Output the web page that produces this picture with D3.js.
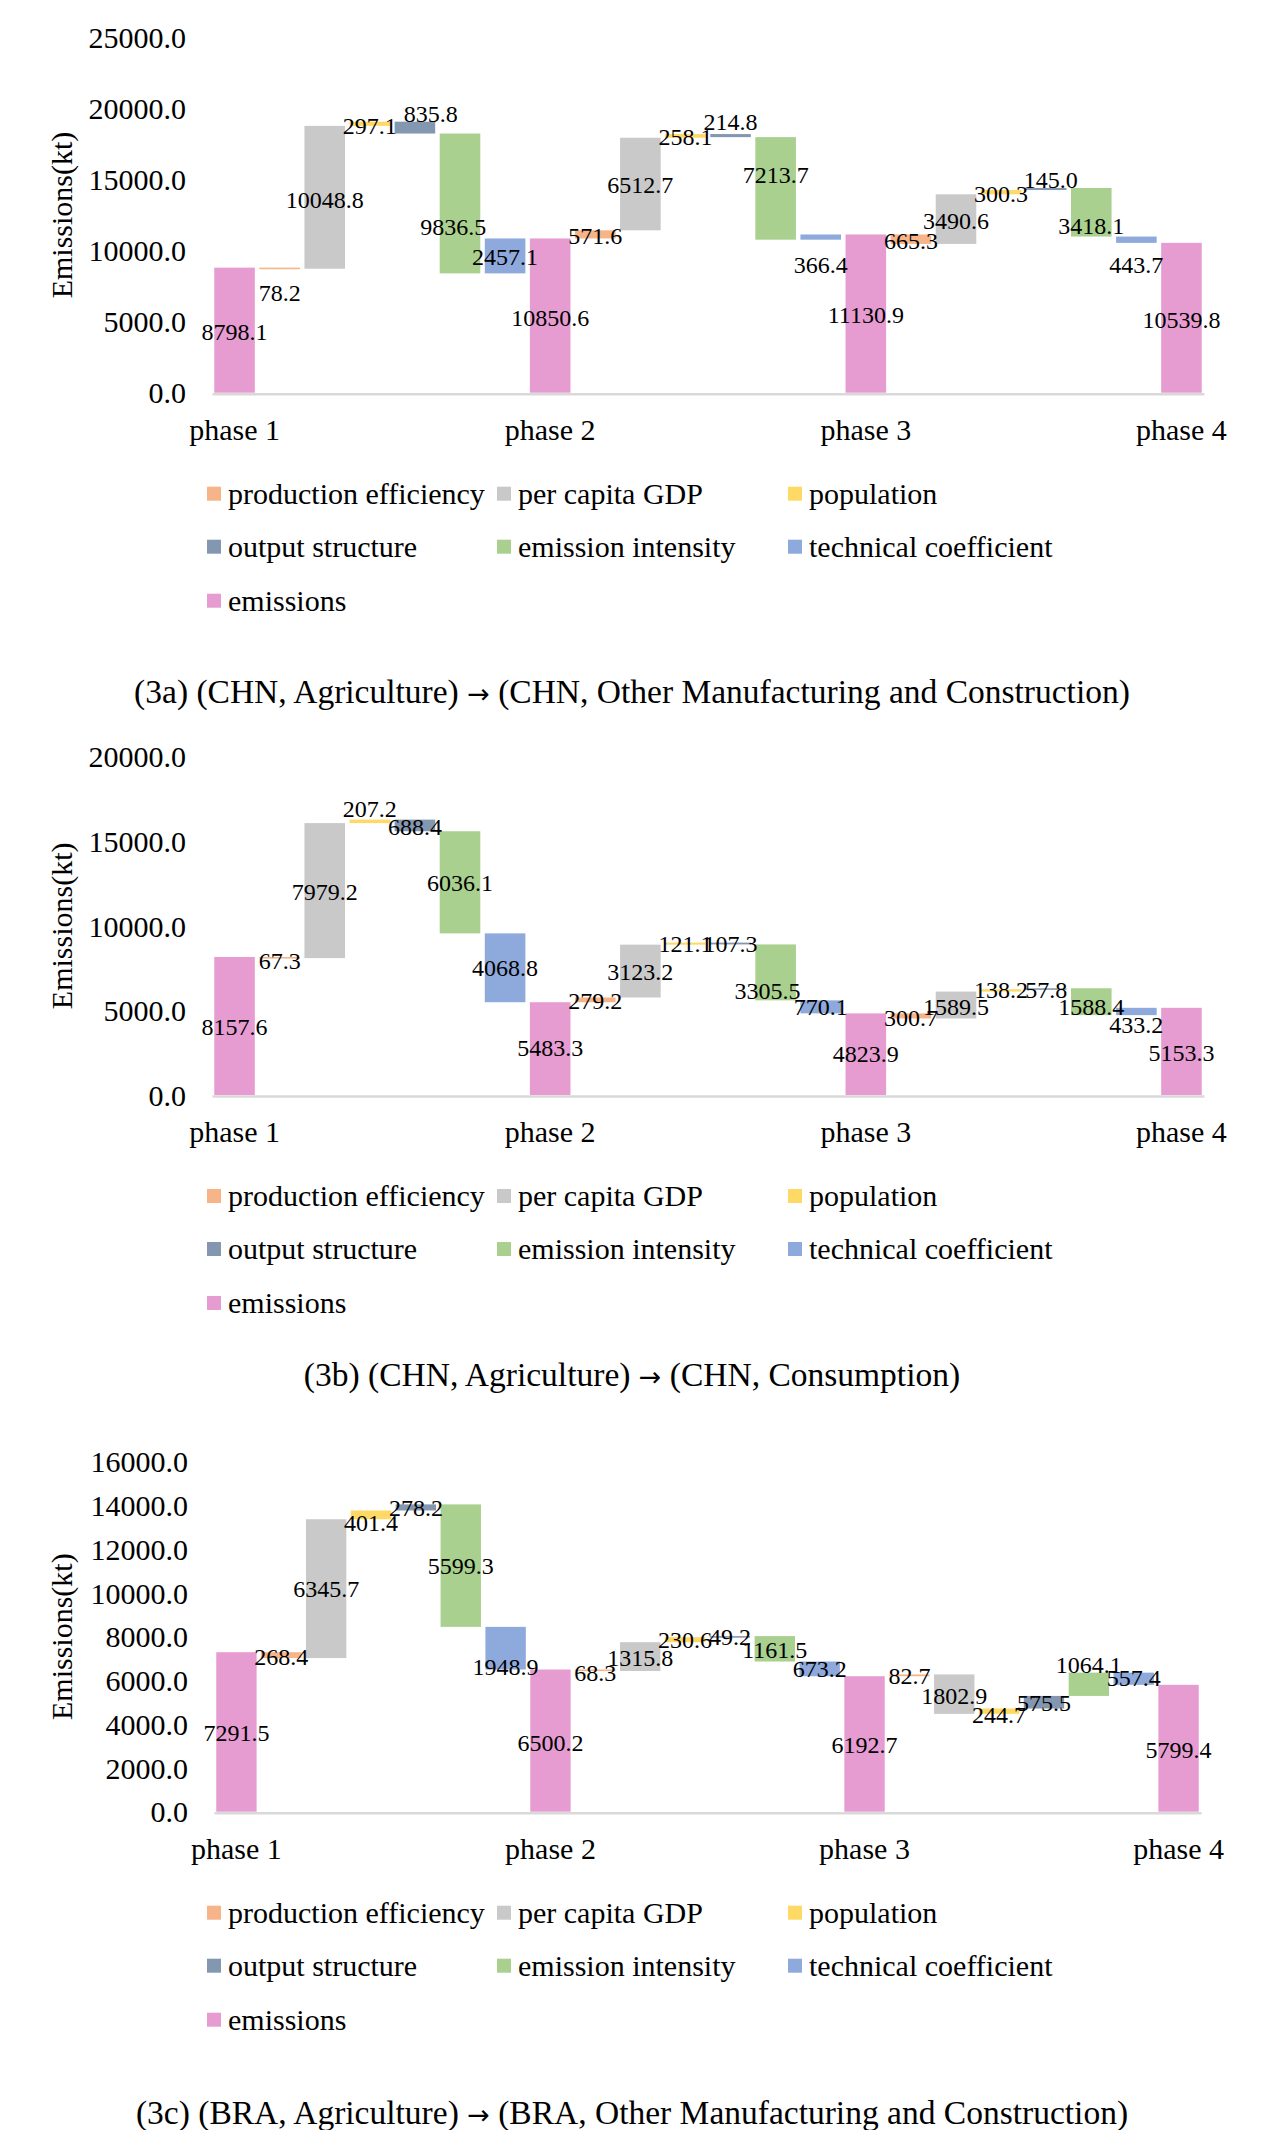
<!DOCTYPE html>
<html>
<head>
<meta charset="utf-8">
<script src="https://cdn.jsdelivr.net/npm/d3@7"></script>
<style>
  html, body { margin: 0; padding: 0; background: #ffffff; }
  svg { display: block; }
  text { font-family: "Liberation Serif", "Times New Roman", serif; fill: #000; }
</style>
</head>
<body>
<svg id="chart" width="1265" height="2130"></svg>
<script>
// ---------- shared categories ----------
const phases = ["phase 1", "phase 2", "phase 3", "phase 4"];
const factors = ["production efficiency", "per capita GDP", "population",
                 "output structure", "emission intensity", "technical coefficient"];
const legendItems = ["production efficiency", "per capita GDP", "population",
                     "output structure", "emission intensity", "technical coefficient",
                     "emissions"];

// ---------- (3a) ----------
const emissionsA = [8798.1, 10850.6, 11130.9, 10539.8];
const changesA = [
  [-78.2, 10048.8, 297.1, -835.8, -9836.5, 2457.1],
  [571.6, 6512.7, 258.1, -214.8, -7213.7, 366.4],
  [-665.3, 3490.6, 300.3, 145.0, -3418.1, -443.7]
];
const labelAtA = [4270, 6990, 13600, 18776, 19620, 11674, 9522, 5232,
                  11020, 14606, 18003, 19058, 15310, 8980, 5464,
                  10689, 12096, 14022, 14958, 11723, 8980, 5120];
const labelShiftA = [0, 0, 0, 0, 0.35, -0.15, 0, 0,
                     0, 0, 0, 0, 0, 0, 0,
                     0, 0, 0, 0.1, 0, 0, 0];
const ticksA = [0, 5000, 10000, 15000, 20000, 25000];
const captionA = ["(3a) (CHN, Agriculture) ", "(CHN, Other Manufacturing and Construction)"];

// ---------- (3b) ----------
const emissionsB = [8157.6, 5483.3, 4823.9, 5153.3];
const changesB = [
  [-67.3, 7979.2, 207.2, -688.4, -6036.1, -4068.8],
  [279.2, 3123.2, 121.1, -107.3, -3305.5, -770.1],
  [-300.7, 1589.5, 138.2, 57.8, -1588.4, 433.2]
];
const labelAtB = [4037, 7950, 12017, 16885, 15857, 12512, 7488, 2758,
                  5573, 7288, 8924, 8924, 6166, 5183, 2404,
                  4533, 5219, 6206, 6206, 5183, 4137, 2500];
const labelShiftB = [0, 0, 0, 0, 0, 0, 0, 0,
                     0, 0, 0, 0, -0.18, 0, 0,
                     0, 0, 0, 0, 0, 0, 0];
const ticksB = [0, 5000, 10000, 15000, 20000];
const captionB = ["(3b) (CHN, Agriculture) ", "(CHN, Consumption)"];

// ---------- (3c) ----------
const emissionsC = [7291.5, 6500.2, 6192.7, 5799.4];
const changesC = [
  [-268.4, 6345.7, 401.4, 278.2, -5599.3, -1948.9],
  [-68.3, 1315.8, 230.6, 49.2, -1161.5, -673.2],
  [82.7, -1802.9, 244.7, 575.5, 1064.1, -557.4]
];
const labelAtC = [3584, 7086, 10167, 13184, 13870, 11232, 6601, 3155,
                  6354, 7011, 7849, 8000, 7392, 6510, 3049,
                  6192, 5289, 4421, 4956, 6709, 6098, 2821];
const labelShiftC = [0, 0, 0, 0, 0, 0, 0, 0,
                     0, 0, 0, 0, 0, 0, 0,
                     0, 0, 0, 0, 0, 0, 0];
const ticksC = [0, 2000, 4000, 6000, 8000, 10000, 12000, 14000, 16000];
const captionC = ["(3c) (BRA, Agriculture) ", "(BRA, Other Manufacturing and Construction)"];

// ---------- styles ----------
const colorOf = {
  "production efficiency": "#F6B488",
  "per capita GDP": "#C9C9C9",
  "population": "#FFD966",
  "output structure": "#8497B0",
  "emission intensity": "#A9D08E",
  "technical coefficient": "#8EA9DB",
  "emissions": "#E69CD1"
};

const svg = d3.select("#chart");
svg.append("rect").attr("width", 1265).attr("height", 2130).attr("fill", "#fff");

function buildBars(emissions, changes) {
  const bars = [];
  emissions.forEach((e, i) => {
    bars.push({ kind: "emissions", lo: 0, hi: e, value: e });
    if (i < changes.length) {
      let run = e;
      changes[i].forEach((c, j) => {
        bars.push({ kind: factors[j], lo: run, hi: run + c, value: c });
        run += c;
      });
    }
  });
  return bars;
}

function drawChart(cfg) {
  const bars = buildBars(cfg.emissions, cfg.changes);
  const g = svg.append("g");
  const x = d3.scaleBand()
    .domain(d3.range(bars.length))
    .range([cfg.left, cfg.right])
    .paddingInner(0.1)
    .paddingOuter(0.05);
  const y = d3.scaleLinear()
    .domain([0, d3.max(cfg.ticks)])
    .range([cfg.zero, cfg.top]);

  // y axis (labels only)
  const yAxis = d3.axisLeft(y)
    .tickValues(cfg.ticks)
    .tickFormat(d3.format(".1f"))
    .tickSize(0)
    .tickPadding(cfg.left - cfg.tickRight);
  const ya = g.append("g").attr("transform", `translate(${cfg.left},0)`).call(yAxis);
  ya.select(".domain").remove();
  ya.selectAll("text")
    .attr("font-family", "Liberation Serif, Times New Roman, serif")
    .attr("font-size", 30).attr("fill", "#000").attr("dy", "0.34em");

  // axis title
  g.append("text")
    .attr("transform", `translate(61,${(cfg.top + cfg.zero) / 2}) rotate(-90)`)
    .attr("text-anchor", "middle")
    .attr("dominant-baseline", "central")
    .attr("font-size", 30)
    .text("Emissions(kt)");

  // bars
  g.selectAll("rect.bar").data(bars).join("rect")
    .attr("class", "bar")
    .attr("x", (d, i) => x(i))
    .attr("width", x.bandwidth())
    .attr("y", d => y(Math.max(d.lo, d.hi)))
    .attr("height", d => Math.max(1.6, Math.abs(y(d.lo) - y(d.hi))))
    .attr("fill", d => colorOf[d.kind]);

  // x axis with phase labels
  const emIdx = bars.map((b, i) => b.kind === "emissions" ? i : -1).filter(i => i >= 0);
  const xAxis = d3.axisBottom(x)
    .tickValues(emIdx)
    .tickFormat(i => phases[emIdx.indexOf(i)])
    .tickSize(0)
    .tickPadding(25)
    .tickSizeOuter(0);
  const xa = g.append("g").attr("transform", `translate(0,${cfg.zero + 1})`).call(xAxis);
  xa.select(".domain").attr("stroke", "#d9d9d9").attr("stroke-width", 2.5);
  xa.selectAll("text")
    .attr("font-family", "Liberation Serif, Times New Roman, serif")
    .attr("font-size", 30).attr("fill", "#000");

  // data labels
  const fmt = d3.format(".1f");
  g.selectAll("text.lbl").data(bars).join("text")
    .attr("class", "lbl")
    .attr("x", (d, i) => x(i) + x.bandwidth() / 2 + cfg.labelShift[i] * x.step())
    .attr("y", (d, i) => y(cfg.labelAt[i]))
    .attr("dy", "0.34em")
    .attr("text-anchor", "middle")
    .attr("font-size", 24)
    .text(d => fmt(Math.abs(d.value)));

  // legend
  const colX = [207, 497, 788];
  const rowY = [cfg.zero + 101, cfg.zero + 154, cfg.zero + 208];
  const lg = g.append("g");
  legendItems.forEach((name, k) => {
    const cx = colX[k % 3], cy = rowY[Math.floor(k / 3)];
    lg.append("rect").attr("x", cx).attr("y", cy - 7).attr("width", 14).attr("height", 14)
      .attr("fill", colorOf[name]);
    lg.append("text").attr("x", cx + 21).attr("y", cy).attr("dy", "0.34em")
      .attr("font-size", 30).text(name);
  });

  // caption
  const cap = g.append("text")
    .attr("x", 632).attr("y", cfg.captionY).attr("dy", "0.34em")
    .attr("text-anchor", "middle")
    .attr("font-size", 33.5);
  cap.append("tspan").text(cfg.caption[0]);
  cap.append("tspan").attr("font-family", "DejaVu Sans, sans-serif").attr("font-size", 27).text("\u2192");
  cap.append("tspan").text(" " + cfg.caption[1]);
}

drawChart({ emissions: emissionsA, changes: changesA, labelAt: labelAtA, labelShift: labelShiftA,
  ticks: ticksA, caption: captionA, top: 37.3, zero: 392.7, left: 212, right: 1204,
  tickRight: 186, captionY: 692 });
drawChart({ emissions: emissionsB, changes: changesB, labelAt: labelAtB, labelShift: labelShiftB,
  ticks: ticksB, caption: captionB, top: 756.6, zero: 1095, left: 212, right: 1204,
  tickRight: 186, captionY: 1375 });
drawChart({ emissions: emissionsC, changes: changesC, labelAt: labelAtC, labelShift: labelShiftC,
  ticks: ticksC, caption: captionC, top: 1461.7, zero: 1811.7, left: 214, right: 1201,
  tickRight: 188, captionY: 2113 });
</script>
</body>
</html>
